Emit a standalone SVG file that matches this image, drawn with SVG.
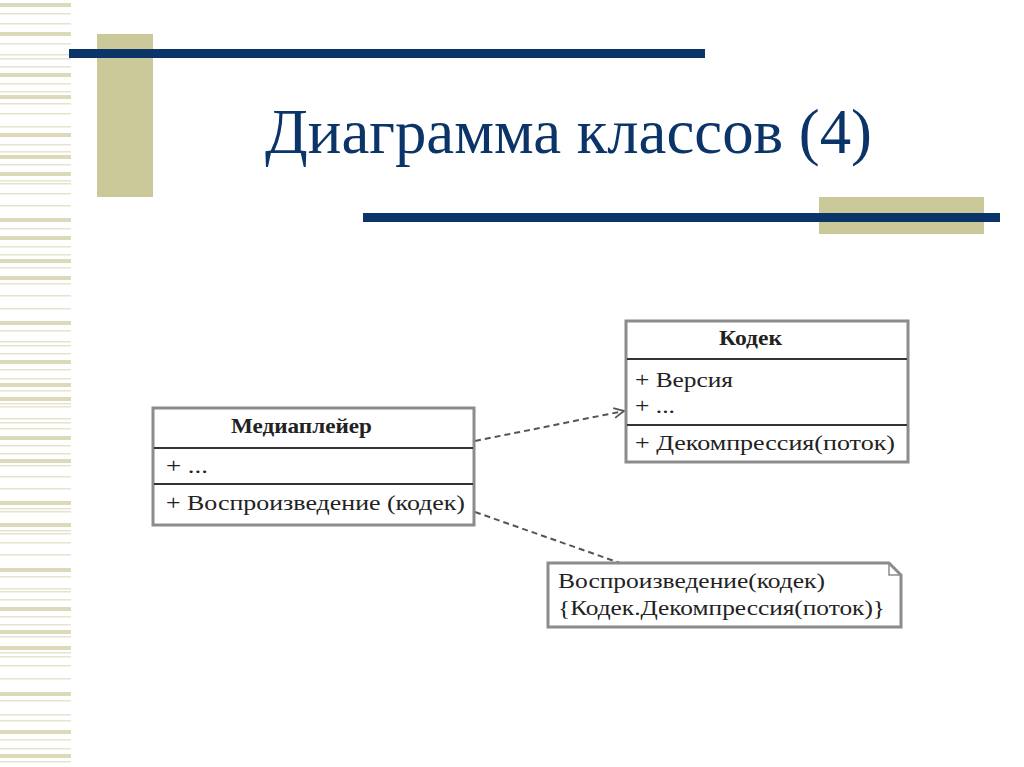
<svg xmlns="http://www.w3.org/2000/svg" width="1024" height="767" viewBox="0 0 1024 767">
<defs>
<style>
.thk{fill:#dcdab8}
.thn{fill:#e6e4cc}
.box{fill:#fff;stroke:#8c8c8c;stroke-width:3}
.div{stroke:#333;stroke-width:2}
.t{font-size:21px;fill:#222}
.b{font-weight:bold}
.dash{fill:none;stroke:#555;stroke-width:2;stroke-dasharray:6 4}
</style>
<marker id="open" viewBox="0 0 12 12" refX="11" refY="6" markerWidth="12" markerHeight="12" markerUnits="userSpaceOnUse" orient="auto">
<path d="M1,1 L11,6 L1,11" fill="none" stroke="#555" stroke-width="1.8"/>
</marker>
</defs>
<rect width="1024" height="767" fill="#fff"/>
<g id="stripes">
<rect class="thk" x="0" y="3" width="71" height="4"/>
<rect class="thn" x="0" y="13" width="71" height="1.5"/>
<rect class="thn" x="0" y="23" width="71" height="1.5"/>
<rect class="thk" x="0" y="32" width="71" height="4"/>
<rect class="thn" x="0" y="43" width="71" height="1.5"/>
<rect class="thn" x="0" y="54" width="71" height="1.5"/>
<rect class="thn" x="0" y="58" width="71" height="1.5"/>
<rect class="thn" x="0" y="66" width="71" height="1.5"/>
<rect class="thk" x="0" y="73" width="71" height="4"/>
<rect class="thn" x="0" y="83" width="71" height="1.5"/>
<rect class="thn" x="0" y="91" width="71" height="1.5"/>
<rect class="thk" x="0" y="95" width="71" height="4"/>
<rect class="thn" x="0" y="103" width="71" height="1.5"/>
<rect class="thn" x="0" y="113" width="71" height="1.5"/>
<rect class="thn" x="0" y="126" width="71" height="1.5"/>
<rect class="thk" x="0" y="133" width="71" height="4"/>
<rect class="thn" x="0" y="144" width="71" height="1.5"/>
<rect class="thn" x="0" y="151" width="71" height="1.5"/>
<rect class="thk" x="0" y="155" width="71" height="4"/>
<rect class="thn" x="0" y="164" width="71" height="1.5"/>
<rect class="thk" x="0" y="172" width="71" height="4"/>
<rect class="thn" x="0" y="180" width="71" height="1.5"/>
<rect class="thn" x="0" y="183" width="71" height="1.5"/>
<rect class="thn" x="0" y="193" width="71" height="1.5"/>
<rect class="thn" x="0" y="205" width="71" height="1.5"/>
<rect class="thk" x="0" y="218" width="71" height="4"/>
<rect class="thn" x="0" y="228" width="71" height="1.5"/>
<rect class="thk" x="0" y="236" width="71" height="4"/>
<rect class="thn" x="0" y="246" width="71" height="1.5"/>
<rect class="thn" x="0" y="254" width="71" height="1.5"/>
<rect class="thk" x="0" y="259" width="71" height="4"/>
<rect class="thn" x="0" y="267" width="71" height="1.5"/>
<rect class="thk" x="0" y="276" width="71" height="4"/>
<rect class="thn" x="0" y="283" width="71" height="1.5"/>
<rect class="thn" x="0" y="295" width="71" height="1.5"/>
<rect class="thn" x="0" y="308" width="71" height="1.5"/>
<rect class="thk" x="0" y="321" width="71" height="4"/>
<rect class="thn" x="0" y="330" width="71" height="1.5"/>
<rect class="thn" x="0" y="341" width="71" height="1.5"/>
<rect class="thn" x="0" y="345" width="71" height="1.5"/>
<rect class="thn" x="0" y="353" width="71" height="1.5"/>
<rect class="thk" x="0" y="360" width="71" height="4"/>
<rect class="thn" x="0" y="369" width="71" height="1.5"/>
<rect class="thn" x="0" y="378" width="71" height="1.5"/>
<rect class="thk" x="0" y="383" width="71" height="4"/>
<rect class="thn" x="0" y="390" width="71" height="1.5"/>
<rect class="thk" x="0" y="397" width="71" height="4"/>
<rect class="thn" x="0" y="403" width="71" height="1.5"/>
<rect class="thn" x="0" y="406" width="71" height="1.5"/>
<rect class="thn" x="0" y="418" width="71" height="1.5"/>
<rect class="thn" x="0" y="422" width="71" height="1.5"/>
<rect class="thn" x="0" y="428" width="71" height="1.5"/>
<rect class="thk" x="0" y="436" width="71" height="4"/>
<rect class="thn" x="0" y="445" width="71" height="1.5"/>
<rect class="thn" x="0" y="453" width="71" height="1.5"/>
<rect class="thk" x="0" y="459" width="71" height="4"/>
<rect class="thn" x="0" y="465" width="71" height="1.5"/>
<rect class="thn" x="0" y="476" width="71" height="1.5"/>
<rect class="thn" x="0" y="488" width="71" height="1.5"/>
<rect class="thk" x="0" y="501" width="71" height="4"/>
<rect class="thn" x="0" y="508" width="71" height="1.5"/>
<rect class="thn" x="0" y="511" width="71" height="1.5"/>
<rect class="thk" x="0" y="523" width="71" height="4"/>
<rect class="thn" x="0" y="530" width="71" height="1.5"/>
<rect class="thn" x="0" y="533" width="71" height="1.5"/>
<rect class="thn" x="0" y="542" width="71" height="1.5"/>
<rect class="thn" x="0" y="554" width="71" height="1.5"/>
<rect class="thk" x="0" y="568" width="71" height="4"/>
<rect class="thn" x="0" y="576" width="71" height="1.5"/>
<rect class="thn" x="0" y="588" width="71" height="1.5"/>
<rect class="thn" x="0" y="591" width="71" height="1.5"/>
<rect class="thn" x="0" y="599" width="71" height="1.5"/>
<rect class="thk" x="0" y="607" width="71" height="4"/>
<rect class="thn" x="0" y="616" width="71" height="1.5"/>
<rect class="thn" x="0" y="624" width="71" height="1.5"/>
<rect class="thk" x="0" y="630" width="71" height="4"/>
<rect class="thn" x="0" y="636" width="71" height="1.5"/>
<rect class="thk" x="0" y="646" width="71" height="4"/>
<rect class="thn" x="0" y="652" width="71" height="1.5"/>
<rect class="thn" x="0" y="656" width="71" height="1.5"/>
<rect class="thn" x="0" y="665" width="71" height="1.5"/>
<rect class="thn" x="0" y="678" width="71" height="1.5"/>
<rect class="thk" x="0" y="692" width="71" height="4"/>
<rect class="thn" x="0" y="700" width="71" height="1.5"/>
<rect class="thn" x="0" y="714" width="71" height="1.5"/>
<rect class="thn" x="0" y="720" width="71" height="1.5"/>
<rect class="thk" x="0" y="730" width="71" height="4"/>
<rect class="thn" x="0" y="739" width="71" height="1.5"/>
<rect class="thn" x="0" y="748" width="71" height="1.5"/>
<rect class="thk" x="0" y="754" width="71" height="4"/>
<rect class="thn" x="0" y="761" width="71" height="1.5"/>
</g>
<g id="decor">
<rect x="97" y="34" width="56" height="163" fill="#cbc999"/>
<rect x="69" y="49" width="636" height="9" fill="#0b3468"/>
<rect x="819" y="197" width="165" height="37" fill="#cbc999"/>
<rect x="363" y="213" width="637" height="9" fill="#0b3468"/>
</g>
<g id="title">
<text x="265" y="153" font-family="Liberation Serif, Times New Roman, serif" font-size="64" fill="#0b3468" textLength="607" lengthAdjust="spacingAndGlyphs">Диаграмма классов (4)</text>
</g>
<g id="connectors">
<path class="dash" d="M475,441 L624,411" marker-end="url(#open)"/>
<path class="dash" d="M475,512 L620,563"/>
</g>
<g id="codec" font-family="Liberation Serif, Times New Roman, serif">
<rect class="box" x="626" y="321" width="282" height="141"/>
<line class="div" x1="627" y1="359" x2="907" y2="359"/>
<line class="div" x1="627" y1="425" x2="907" y2="425"/>
<text class="t b" x="719" y="345" textLength="63" lengthAdjust="spacingAndGlyphs">Кодек</text>
<text class="t" x="635" y="387" textLength="98" lengthAdjust="spacingAndGlyphs">+ Версия</text>
<text class="t" x="635" y="413" textLength="40" lengthAdjust="spacingAndGlyphs">+ ...</text>
<text class="t" x="635" y="450" textLength="260" lengthAdjust="spacingAndGlyphs">+ Декомпрессия(поток)</text>
</g>
<g id="player" font-family="Liberation Serif, Times New Roman, serif">
<rect class="box" x="153" y="408" width="321" height="117"/>
<line class="div" x1="154" y1="448" x2="473" y2="448"/>
<line class="div" x1="154" y1="484" x2="473" y2="484"/>
<text class="t b" x="231" y="433" textLength="141" lengthAdjust="spacingAndGlyphs">Медиаплейер</text>
<text class="t" x="166" y="473" textLength="42" lengthAdjust="spacingAndGlyphs">+ ...</text>
<text class="t" x="166" y="510" textLength="299" lengthAdjust="spacingAndGlyphs">+ Воспроизведение (кодек)</text>
</g>
<g id="note" font-family="Liberation Serif, Times New Roman, serif">
<path class="box" d="M548,563 L889,563 L901,575 L901,627 L548,627 Z"/>
<path d="M889,563 L889,575 L901,575" fill="none" stroke="#8c8c8c" stroke-width="1.5"/>
<text class="t" x="558" y="588" textLength="267" lengthAdjust="spacingAndGlyphs">Воспроизведение(кодек)</text>
<text class="t" x="558" y="615" textLength="327" lengthAdjust="spacingAndGlyphs">{Кодек.Декомпрессия(поток)}</text>
</g>
</svg>
